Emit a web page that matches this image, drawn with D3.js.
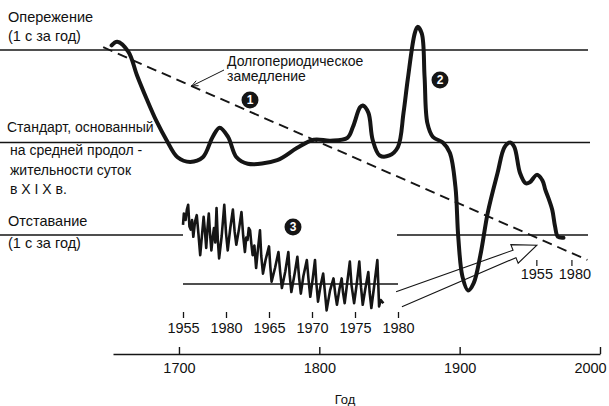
<!DOCTYPE html>
<html>
<head>
<meta charset="utf-8">
<script src="https://cdn.jsdelivr.net/npm/d3@7"></script>
<style>
  body { margin: 0; background: #fff; }
  svg text { font-family: "Liberation Sans", Arial, sans-serif; fill: #111; }
</style>
</head>
<body>
<div id="chart"></div>
<script>
// main curve: deviation of day length (1 = 1 s/year advance, -1 = 1 s/year lag)
var mainYears = [1652, 1656, 1664, 1670, 1677, 1684, 1691, 1699, 1708, 1717, 1724, 1729, 1735, 1741, 1749,
  1770, 1784, 1796, 1808, 1820, 1824, 1829, 1831, 1835, 1838, 1843, 1850, 1856, 1860, 1863, 1868, 1870,
  1873, 1875, 1877, 1881, 1888, 1893, 1897, 1899, 1902, 1906, 1910, 1915, 1920, 1927, 1932, 1936, 1939,
  1943, 1947, 1950, 1955, 1959, 1961, 1963, 1966, 1968, 1970, 1974];
var mainValues = [1.05, 1.09, 0.98, 0.73, 0.47, 0.23, 0.03, -0.16, -0.21, -0.16, 0.06, 0.16, 0.06, -0.16, -0.23,
  -0.19, -0.06, 0.03, 0.02, 0.05, 0.17, 0.38, 0.4, 0.32, 0.03, -0.14, -0.14, -0.05, 0.32, 0.68, 1.18, 1.25,
  1.18, 0.71, 0.21, 0.06, 0.0, -0.11, -0.48, -1.02, -1.45, -1.6, -1.52, -1.2, -0.76, -0.33, -0.05, 0.0, -0.05,
  -0.33, -0.44, -0.43, -0.35, -0.41, -0.51, -0.59, -0.73, -0.91, -1.02, -1.03];

// long-period slowdown (dashed)
var trendYears = [1646, 1991];
var trendValues = [1.03, -1.27];

// inset 1955-1978 (jagged monthly-ish record)
var insetYears = [1955.0, 1955.1, 1955.3, 1955.45, 1955.6, 1955.75, 1955.9, 1956.05, 1956.2, 1956.4, 1956.6,
  1956.8, 1957.0, 1957.2, 1957.4, 1957.55, 1957.7, 1957.85, 1958.0, 1958.15, 1958.3, 1958.45, 1958.6, 1958.75,
  1958.9, 1959.05, 1959.2, 1959.5, 1959.8, 1960.0, 1960.2, 1960.5, 1960.8, 1961.0, 1961.2, 1961.5, 1961.8,
  1962.0, 1962.2, 1962.35, 1962.5, 1962.65, 1962.8, 1962.95, 1963.1, 1963.3, 1963.5, 1963.7, 1963.95, 1964.1,
  1964.3, 1964.6, 1965.0, 1965.15, 1965.3, 1965.7, 1966.1, 1966.3, 1966.5, 1966.9, 1967.25, 1967.4, 1967.6,
  1968.0, 1968.3, 1968.5, 1968.7, 1969.0, 1969.4, 1969.6, 1969.8, 1970.1, 1970.35, 1970.5, 1970.7, 1971.0,
  1971.3, 1971.5, 1971.7, 1972.1, 1972.5, 1972.7, 1972.9, 1973.2, 1973.45, 1973.6, 1973.8, 1974.1, 1974.4,
  1974.6, 1974.9, 1975.2, 1975.5, 1975.7, 1975.9, 1976.2, 1976.55, 1976.7, 1976.9, 1977.2, 1977.6, 1977.7,
  1977.8, 1978.0, 1978.3];
var insetValues = [0.74, 0.88, 0.8, 0.93, 0.99, 0.72, 0.68, 0.8, 0.59, 0.78, 0.86,
  0.62, 0.36, 0.6, 0.84, 0.66, 0.45, 0.7, 0.88, 0.62, 0.42, 0.58, 0.7, 0.52,
  0.95, 0.55, 0.32, 0.6, 0.99, 0.64, 0.42, 0.7, 0.93, 0.66, 0.49, 0.68, 0.9,
  0.6, 0.4, 0.58, 0.55, 0.7, 0.67, 0.5, 0.36, 0.48, 0.2, 0.42, 0.67, 0.35,
  0.13, 0.3, 0.47, 0.22, 0.03, 0.2, 0.4, 0.15, -0.05, 0.16, 0.4, 0.12, -0.1,
  0.14, 0.34, 0.08, -0.12, 0.1, 0.3, 0.05, -0.16, 0.08, 0.3, 0.02, -0.22, -0.02,
  0.13, -0.1, -0.33, -0.08, 0.07, -0.12, -0.26, -0.06, 0.07, -0.1, -0.24, 0.02, 0.28,
  -0.02, -0.24, 0.0, 0.28, -0.04, -0.26, -0.06, 0.15, -0.1, -0.3, -0.05, 0.3, 0.02,
  -0.28, -0.2, -0.24];

var mainTicks = [1700, 1800, 1900, 2000];
var insetTicks = [1955, 1960, 1965, 1970, 1975, 1980];
var insetTickLabels = ["1955", "1980", "1965", "1970", "1975", "1980"];
var markTicks = [1955, 1980];

var topLabels = ["Опережение", "(1 с за год)"];
var stdLabels = ["на средней продол -", "жительности  суток", "в X I X в."];
var lowLabels = ["Отставание", "(1 с за год)"];
var trendLabels = ["Долгопериодическое", "замедление"];

var width = 609, height = 406;

var svg = d3.select("#chart")
  .append("svg")
    .attr("width", width)
    .attr("height", height);

// scales
var x = d3.scaleLinear().domain([1653, 2000]).range([113, 600]);
var y = d3.scaleLinear().domain([-1, 1]).range([235, 50]);
var xi = d3.scaleLinear().domain([1955, 1980]).range([183, 398]);
var yi = d3.scaleLinear().domain([0, 1]).range([284, 204]);

var ink = "#151515";

// reference lines
function hline(x1, x2, yy) {
  svg.append("line").attr("x1", x1).attr("x2", x2).attr("y1", yy).attr("y2", yy)
    .attr("stroke", ink).attr("stroke-width", 1.4);
}
hline(0, 588, y(1));
hline(0, 590, y(0));
hline(0, xi(1955), y(-1));
hline(xi(1980) - 1, 588, y(-1));
hline(xi(1955), xi(1980), yi(0));

// labels
function block(lines, x0, y0, step, size) {
  svg.append("g").selectAll("text")
    .data(lines)
    .enter().append("text")
      .attr("x", x0)
      .attr("y", function(d, i) { return y0 + i * step; })
      .style("font-size", size + "px")
      .text(function(d) { return d; });
}
block(topLabels, 8, 22, 19, 14.5);
block(["Стандарт, основанный"], 7, 132, 0, 14);
block(stdLabels, 10, 155, 19.5, 14);
block(lowLabels, 8, 226, 22, 14.5);
block(trendLabels, 227, 66, 14.5, 14);

// dashed trend
var trend = trendYears.map(function(d, i) { return [d, trendValues[i]]; });
svg.append("path")
  .datum(trend)
  .attr("fill", "none")
  .attr("stroke", ink)
  .attr("stroke-width", 1.9)
  .attr("stroke-dasharray", "10,6")
  .attr("d", d3.line().x(function(d) { return x(d[0]); }).y(function(d) { return y(d[1]); }));

// pointer to trend
var tY = 1709;
var tV = trendValues[0] + (tY - trendYears[0]) / (trendYears[1] - trendYears[0]) * (trendValues[1] - trendValues[0]);
var px = x(tY), py = y(tV), qx = 224, qy = 70;
var ang = Math.atan2(qy - py, qx - px);
svg.append("path")
  .attr("fill", "none").attr("stroke", ink).attr("stroke-width", 1)
  .attr("d", "M" + qx + "," + qy + "L" + px + "," + py +
    "M" + (px + 7 * Math.cos(ang + 0.4)) + "," + (py + 7 * Math.sin(ang + 0.4)) +
    "L" + px + "," + py +
    "L" + (px + 7 * Math.cos(ang - 0.4)) + "," + (py + 7 * Math.sin(ang - 0.4)));

// main curve
var main = mainYears.map(function(d, i) { return [d, mainValues[i]]; });
svg.append("path")
  .datum(main)
  .attr("fill", "none")
  .attr("stroke", ink)
  .attr("stroke-width", 4)
  .attr("stroke-linecap", "round")
  .attr("stroke-linejoin", "round")
  .attr("d", d3.line()
    .curve(d3.curveCatmullRom.alpha(0.5))
    .x(function(d) { return x(d[0]); })
    .y(function(d) { return y(d[1]); }));

// inset curve
var inset = insetYears.map(function(d, i) { return [d, insetValues[i]]; });
svg.append("path")
  .datum(inset)
  .attr("fill", "none")
  .attr("stroke", ink)
  .attr("stroke-width", 2.6)
  .attr("stroke-linejoin", "round")
  .attr("d", d3.line()
    .x(function(d) { return xi(d[0]); })
    .y(function(d) { return yi(d[1]); }));

// inset axis
var gi = svg.append("g")
  .attr("transform", "translate(0,312)")
  .call(d3.axisBottom(xi).tickValues(insetTicks)
    .tickFormat(function(d, i) { return insetTickLabels[i]; })
    .tickSize(6).tickPadding(5));
gi.select(".domain").remove();
gi.selectAll("line").attr("stroke", ink).attr("stroke-width", 1.3);
gi.selectAll("text").style("font-size", "14.5px").attr("fill", ink)
  .style("font-family", "'Liberation Sans', Arial, sans-serif");

// main axis
var gx = svg.append("g")
  .attr("transform", "translate(0,354)")
  .call(d3.axisBottom(x).tickValues(mainTicks).tickFormat(d3.format("d"))
    .tickSizeInner(-7).tickSizeOuter(0).tickPadding(9));
gx.select(".domain").attr("stroke", ink).attr("stroke-width", 1.4);
gx.selectAll("line").attr("stroke", ink).attr("stroke-width", 1.4);
gx.selectAll("text").style("font-size", "14.5px").attr("fill", ink)
  .style("font-family", "'Liberation Sans', Arial, sans-serif");
gx.selectAll("text").filter(function(d) { return d === 2000; }).attr("x", -10);

svg.append("text")
  .attr("x", 345).attr("y", 404)
  .attr("text-anchor", "middle")
  .style("font-size", "13px")
  .text("Год");

// 1955 / 1980 marks on main curve
var gm = svg.append("g").selectAll("g").data(markTicks).enter().append("g")
  .attr("transform", function(d) { return "translate(" + x(d) + ",0)"; });
gm.append("line").attr("y1", 260).attr("y2", 266).attr("stroke", ink).attr("stroke-width", 1.2);
gm.append("text").attr("y", 279).attr("text-anchor", "middle").style("font-size", "14.5px")
  .attr("dx", function(d, i) { return i ? 3 : 0; })
  .text(function(d) { return d; });

// hollow arrow from inset to the modern part of the curve
var tail = [xi(1980) + 1, yi(-0.19)];
var tip = [x(1955), y(-1.11)];
var dx = tip[0] - tail[0], dy = tip[1] - tail[1], len = Math.sqrt(dx * dx + dy * dy);
var ux = dx / len, uy = dy / len, nx = -uy, ny = ux;
var neck = [tip[0] - ux * 24, tip[1] - uy * 24];
function pt(p, w) { return (p[0] + nx * w) + "," + (p[1] + ny * w); }
svg.append("path")
  .attr("fill", "none").attr("stroke", ink).attr("stroke-width", 1.1)
  .attr("d", "M" + pt(tail, -8) + "L" + pt(neck, -4) + "L" + pt(neck, -10) + "L" + tip[0] + "," + tip[1] +
    "L" + pt(neck, 10) + "L" + pt(neck, 4) + "L" + pt(tail, 8));

// circled numbers
var badges = [[1, 250, 100], [2, 440, 80], [3, 293, 227]];
var gb = svg.append("g").selectAll("g").data(badges).enter().append("g")
  .attr("transform", function(d) { return "translate(" + d[1] + "," + d[2] + ")"; });
gb.append("circle").attr("r", 8.5).attr("fill", ink);
gb.append("text").attr("text-anchor", "middle").attr("dy", "0.36em")
  .style("font-size", "12px").style("font-weight", "bold").style("fill", "#fff")
  .text(function(d) { return d[0]; });
</script>
</body>
</html>
